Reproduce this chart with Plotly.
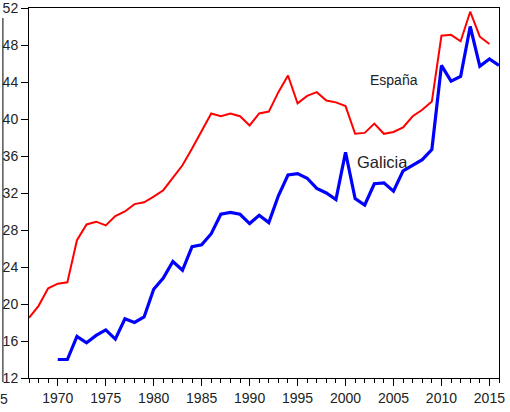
import plotly.graph_objects as go

years_espana = list(range(1967, 2016))
espana = [18.5, 19.8, 21.7, 22.2, 22.35, 26.9, 28.6, 28.9, 28.5, 29.5,
          30.0, 30.8, 31.0, 31.6, 32.3, 33.6, 35.0, 36.8, 38.7, 40.6,
          40.3, 40.6, 40.3, 39.3, 40.6, 40.8, 42.9, 44.7, 41.7, 42.5,
          42.9, 42.0, 41.8, 41.4, 38.4, 38.5, 39.5, 38.4, 38.6, 39.1,
          40.3, 41.0, 41.9, 49.0, 49.1, 48.4, 51.6, 48.9, 48.1]

years_galicia = list(range(1970, 2017))
galicia = [14.0, 14.0, 16.5, 15.8, 16.6, 17.2, 16.2, 18.4, 18.0, 18.6,
           21.6, 22.8, 24.6, 23.65, 26.2, 26.4, 27.6, 29.7, 29.9, 29.7,
           28.7, 29.6, 28.8, 31.7, 33.95, 34.1, 33.6, 32.5, 32.0, 31.3,
           36.4, 31.4, 30.7, 33.0, 33.1, 32.2, 34.4, 35.0, 35.6, 36.7,
           45.8, 44.1, 44.6, 50.0, 45.7, 46.5, 45.8]

x_ticks = [1970, 1975, 1980, 1985, 1990, 1995, 2000, 2005, 2010, 2015]
y_ticks = [12, 16, 20, 24, 28, 32, 36, 40, 44, 48, 52]

FONT = "Liberation Sans, Arial, sans-serif"
TXT = "#222222"

fig = go.Figure()
fig.add_trace(go.Scatter(x=years_espana, y=espana, mode="lines",
                         line=dict(color="#FF0000", width=2), name="España"))
fig.add_trace(go.Scatter(x=years_galicia, y=galicia, mode="lines",
                         line=dict(color="#0000FF", width=3.2), name="Galicia"))

fig.add_annotation(x=2005.1, y=44.2, xref="x", yref="y", text="España",
                   showarrow=False, font=dict(family=FONT, size=14, color=TXT))
fig.add_annotation(x=2003.9, y=35.3, xref="x", yref="y", text="Galicia",
                   showarrow=False, font=dict(family=FONT, size=16.5, color=TXT))

# cropped-edge artifacts from the source image
fig.add_annotation(x=-0.054, y=-0.057, xref="paper", yref="paper", text="5",
                   showarrow=False, xanchor="center", yanchor="middle",
                   font=dict(family=FONT, size=14, color=TXT))
fig.add_shape(type="line", xref="paper", yref="paper", x0=-0.0555, x1=-0.0555,
              y0=0.973, y1=-0.011, line=dict(color="black", width=1))

fig.update_layout(
    width=510, height=412, autosize=False,
    margin=dict(l=29, r=11, t=8, b=34),
    paper_bgcolor="white", plot_bgcolor="white",
    showlegend=False,
    font=dict(family=FONT, size=14, color=TXT),
)
fig.update_xaxes(
    range=[1967, 2016], tickvals=x_ticks, ticks="outside", ticklen=7,
    tickcolor="black", tickwidth=1, showgrid=False, zeroline=False,
    showline=True, linecolor="black", linewidth=1, mirror=True,
    automargin=False, ticklabeloverflow="allow",
    minor=dict(dtick=1, tick0=1967, ticks="outside", ticklen=4,
               tickcolor="black", tickwidth=1, showgrid=False),
    tickfont=dict(family=FONT, size=14, color=TXT),
)
fig.update_yaxes(
    range=[12, 52], tickvals=y_ticks, ticks="outside", ticklen=7,
    tickcolor="black", tickwidth=1, showgrid=False, zeroline=False,
    showline=True, linecolor="black", linewidth=1, mirror=True,
    automargin=False, ticklabeloverflow="allow",
    tickfont=dict(family=FONT, size=14, color=TXT),
)

fig.write_html(
    "out.html",
    config={"displayModeBar": False},
    post_script="document.body.style.margin='0';document.body.style.overflow='hidden';",
)
